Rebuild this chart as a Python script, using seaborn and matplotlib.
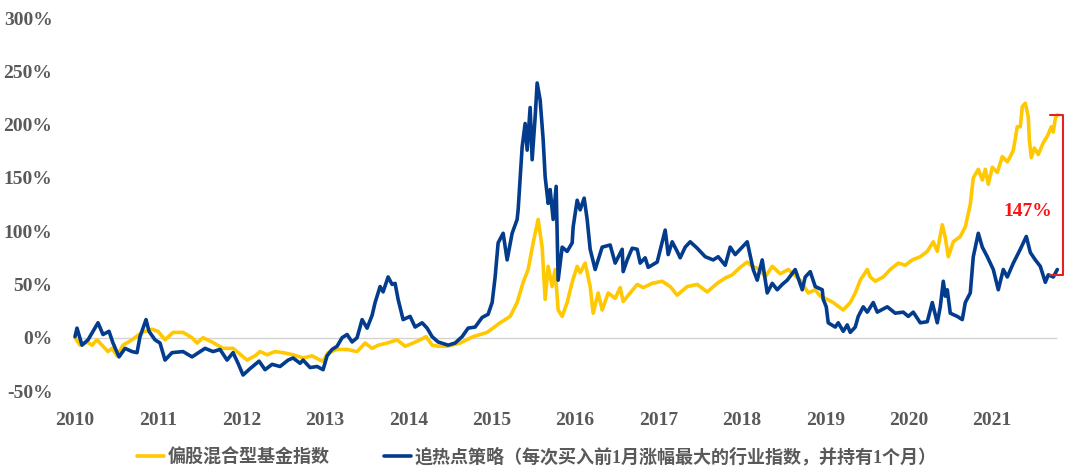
import matplotlib
matplotlib.use("Agg")
import matplotlib.pyplot as plt
import seaborn as sns
import pandas as pd
from matplotlib.lines import Line2D
from matplotlib.ticker import FuncFormatter, FixedLocator

# ---------------- data (decimal years, cumulative return %) ----------------
fund_dates = [
    2010.000, 2010.060, 2010.144, 2010.204, 2010.264, 2010.336, 2010.396, 2010.444, 2010.504, 2010.576,
    2010.684, 2010.804, 2010.924, 2010.996, 2011.080, 2011.176, 2011.296, 2011.404, 2011.464, 2011.536,
    2011.644, 2011.776, 2011.896, 2012.064, 2012.160, 2012.220, 2012.304, 2012.400, 2012.496, 2012.616,
    2012.736, 2012.844, 2012.940, 2012.976, 2013.036, 2013.144, 2013.264, 2013.384, 2013.480, 2013.564,
    2013.636, 2013.744, 2013.864, 2013.960, 2014.056, 2014.140, 2014.212, 2014.284, 2014.356, 2014.464,
    2014.620, 2014.776, 2014.944, 2015.100, 2015.220, 2015.304, 2015.376, 2015.436, 2015.496, 2015.556,
    2015.604, 2015.640, 2015.676, 2015.724, 2015.760, 2015.796, 2015.844, 2015.904, 2015.964, 2016.024,
    2016.060, 2016.120, 2016.180, 2016.216, 2016.276, 2016.324, 2016.396, 2016.480, 2016.540, 2016.576,
    2016.660, 2016.744, 2016.816, 2016.924, 2017.044, 2017.140, 2017.224, 2017.344, 2017.464, 2017.584,
    2017.704, 2017.800, 2017.884, 2017.980, 2018.064, 2018.124, 2018.220, 2018.280, 2018.364, 2018.460,
    2018.556, 2018.700, 2018.796, 2018.880, 2018.940, 2019.024, 2019.096, 2019.216, 2019.300, 2019.360,
    2019.420, 2019.504, 2019.540, 2019.600, 2019.696, 2019.780, 2019.876, 2019.960, 2020.044, 2020.140,
    2020.224, 2020.296, 2020.344, 2020.404, 2020.440, 2020.476, 2020.536, 2020.620, 2020.680, 2020.740,
    2020.776, 2020.836, 2020.884, 2020.920, 2020.956, 2021.004, 2021.064, 2021.124, 2021.184, 2021.220,
    2021.256, 2021.304, 2021.340, 2021.364, 2021.400, 2021.436, 2021.448, 2021.472, 2021.508, 2021.556,
    2021.616, 2021.664, 2021.712, 2021.736, 2021.760, 2021.784,
]
fund_values = [
    0, -7, -4, -7, -2, -8, -13, -10, -17, -7,
    -2, 5, 8, 6, -2, 5, 5, 0, -5, 0,
    -4, -10, -10, -21, -17, -13, -16, -13, -14, -16,
    -19, -17, -21, -22, -14, -11, -11, -13, -5, -10,
    -7, -5, -2, -8, -5, -2, 1, -7, -8, -8,
    -5, 1, 5, 14, 20, 33, 52, 64, 89, 111,
    85, 36, 67, 48, 64, 26, 20, 33, 52, 67,
    61, 70, 48, 23, 42, 26, 42, 37, 47, 34,
    42, 50, 47, 51, 53, 48, 40, 48, 50, 43,
    51, 56, 59, 66, 71, 67, 64, 57, 67, 60,
    64, 54, 42, 45, 39, 36, 33, 26, 33, 42,
    54, 64, 57, 53, 57, 64, 70, 68, 73, 76,
    81, 90, 81, 106, 94, 76, 90, 95, 104, 125,
    150, 158, 148, 158, 144, 160, 155, 170, 165, 170,
    176, 198, 198, 217, 220, 207, 186, 169, 178, 172,
    183, 189, 198, 193, 206, 209,
]

hot_dates = [
    2010.000, 2010.024, 2010.084, 2010.156, 2010.216, 2010.276, 2010.336, 2010.408, 2010.456, 2010.528,
    2010.600, 2010.684, 2010.744, 2010.780, 2010.852, 2010.888, 2010.960, 2011.020, 2011.080, 2011.164,
    2011.296, 2011.404, 2011.560, 2011.656, 2011.740, 2011.824, 2011.896, 2011.956, 2012.016, 2012.100,
    2012.208, 2012.280, 2012.364, 2012.460, 2012.556, 2012.616, 2012.700, 2012.736, 2012.820, 2012.904,
    2012.976, 2013.024, 2013.084, 2013.144, 2013.204, 2013.264, 2013.324, 2013.384, 2013.444, 2013.504,
    2013.564, 2013.600, 2013.660, 2013.696, 2013.756, 2013.804, 2013.840, 2013.876, 2013.936, 2014.020,
    2014.080, 2014.164, 2014.224, 2014.284, 2014.356, 2014.476, 2014.560, 2014.644, 2014.716, 2014.800,
    2014.884, 2014.956, 2015.004, 2015.040, 2015.076, 2015.136, 2015.184, 2015.244, 2015.304, 2015.316,
    2015.364, 2015.400, 2015.424, 2015.460, 2015.484, 2015.520, 2015.544, 2015.580, 2015.616, 2015.640,
    2015.676, 2015.700, 2015.736, 2015.772, 2015.796, 2015.844, 2015.904, 2015.964, 2015.976, 2016.024,
    2016.060, 2016.108, 2016.144, 2016.180, 2016.240, 2016.324, 2016.420, 2016.480, 2016.564, 2016.576,
    2016.624, 2016.684, 2016.744, 2016.780, 2016.840, 2016.876, 2016.984, 2017.080, 2017.116, 2017.164,
    2017.224, 2017.260, 2017.320, 2017.380, 2017.464, 2017.560, 2017.656, 2017.716, 2017.800, 2017.860,
    2017.920, 2018.064, 2018.136, 2018.184, 2018.244, 2018.304, 2018.364, 2018.424, 2018.484, 2018.544,
    2018.640, 2018.724, 2018.760, 2018.820, 2018.880, 2018.964, 2018.976, 2019.012, 2019.036, 2019.120,
    2019.156, 2019.216, 2019.264, 2019.300, 2019.360, 2019.396, 2019.456, 2019.504, 2019.576, 2019.624,
    2019.744, 2019.840, 2019.936, 2019.996, 2020.056, 2020.140, 2020.224, 2020.284, 2020.344, 2020.380,
    2020.416, 2020.440, 2020.464, 2020.500, 2020.584, 2020.644, 2020.680, 2020.740, 2020.776, 2020.836,
    2020.884, 2020.944, 2021.016, 2021.076, 2021.136, 2021.184, 2021.256, 2021.340, 2021.412, 2021.460,
    2021.520, 2021.580, 2021.640, 2021.676, 2021.736, 2021.784,
]
hot_values = [
    1, 9, -7, -2, 6, 14, 3, 6, -5, -18,
    -10, -13, -14, 1, 17, 6, -2, -5, -21, -14,
    -13, -18, -10, -13, -11, -21, -14, -24, -35, -29,
    -22, -30, -25, -27, -21, -19, -24, -21, -28, -27,
    -30, -17, -11, -8, 0, 3, -4, 0, 17, 9,
    21, 33, 48, 43, 57, 50, 51, 36, 17, 20,
    10, 14, 9, 1, -4, -7, -5, 1, 9, 10,
    19, 22, 33, 57, 89, 98, 73, 98, 111, 120,
    179, 201, 176, 216, 167, 207, 239, 223, 186, 151,
    126, 139, 111, 142, 54, 85, 81, 89, 104, 129,
    120, 131, 111, 83, 64, 85, 87, 70, 83, 62,
    73, 84, 83, 70, 75, 66, 71, 101, 78, 90,
    81, 75, 85, 90, 84, 76, 73, 76, 68, 85,
    78, 90, 64, 54, 73, 42, 51, 45, 50, 54,
    64, 45, 57, 62, 48, 45, 36, 29, 14, 10,
    14, 6, 12, 5, 10, 20, 29, 24, 33, 24,
    29, 23, 24, 20, 24, 14, 15, 33, 14, 29,
    53, 39, 45, 23, 20, 17, 33, 42, 76, 98,
    85, 76, 64, 45, 64, 57, 70, 83, 95, 80,
    73, 67, 52, 59, 57, 64,
]

year_ticks = list(range(2010, 2022))
pct_ticks = [-50, 0, 50, 100, 150, 200, 250, 300]
series_names = ["偏股混合型基金指数", "追热点策略（每次买入前1月涨幅最大的行业指数，并持有1个月）"]
gap_label = "147%"
gap_label_y = 118

# ---------------- styling ----------------
YELLOW = "#FFC800"
BLUE = "#033C8C"
GREY = "#595959"
RED = "#E52222"

sns.set_theme(style="white")
plt.rcParams["font.family"] = ["Liberation Serif", "Noto Sans CJK SC", "DejaVu Sans"]
plt.rcParams["font.weight"] = "bold"

fig = plt.figure(figsize=(10.8, 4.74), dpi=100)
ax = fig.add_axes([65 / 1080, 83 / 474, 1005 / 1080, (391 - 18) / 474])

fund_df = pd.DataFrame({"date": fund_dates, "value": fund_values})
hot_df = pd.DataFrame({"date": hot_dates, "value": hot_values})

# zero reference line over the data span
ax.hlines(0, fund_dates[0], fund_dates[-1], color="#d3d3d3", lw=1.0, zorder=1)

sns.lineplot(data=fund_df, x="date", y="value", color=YELLOW, lw=2.6, ax=ax,
             estimator=None, sort=False, zorder=3)
sns.lineplot(data=hot_df, x="date", y="value", color=BLUE, lw=2.6, ax=ax,
             estimator=None, sort=False, zorder=4)

px_per_year = 83.36
ax.set_xlim(2010 - 10 / px_per_year, 2010 - 10 / px_per_year + 1005 / px_per_year)
ax.set_ylim(-50, 300)
ax.xaxis.set_major_locator(FixedLocator(year_ticks))
ax.yaxis.set_major_locator(FixedLocator(pct_ticks))
ax.yaxis.set_major_formatter(FuncFormatter(lambda v, p: f"{int(v)}%"))
ax.set_xlabel("")
ax.set_ylabel("")
for s in ax.spines.values():
    s.set_visible(False)
ax.tick_params(axis="both", length=0, labelsize=14, labelcolor=GREY)
ax.tick_params(axis="y", pad=9)
ax.tick_params(axis="x", pad=15)
for lab in ax.get_xticklabels() + ax.get_yticklabels():
    lab.set_fontweight("bold")
ax.grid(False)

# bracket showing the final gap
top = fund_values[-1]
bot = hot_values[-1] - 5
bx = fund_dates[-1] + 6 / px_per_year
bl = bx - 13 / px_per_year
ax.plot([bl, bx, bx, bl], [top, top, bot, bot], color=RED, lw=1.5, clip_on=False, zorder=5)
ax.text(bx - 36 / px_per_year, gap_label_y, gap_label, color="#FF1010", fontsize=14,
        fontweight="bold", ha="center", va="center")

# legend
handles = [Line2D([0], [0], color=YELLOW, lw=2.6), Line2D([0], [0], color=BLUE, lw=2.6)]
leg = fig.legend(handles, series_names, loc="center", bbox_to_anchor=(537 / 1080, 1 - 457 / 474),
                 ncol=2, frameon=False, fontsize=13, handlelength=1.5, handletextpad=0.2,
                 columnspacing=3.0, borderaxespad=0)
for t in leg.get_texts():
    t.set_color(GREY)
    t.set_fontweight("bold")

fig.savefig("out.png", dpi=100, facecolor="white")
